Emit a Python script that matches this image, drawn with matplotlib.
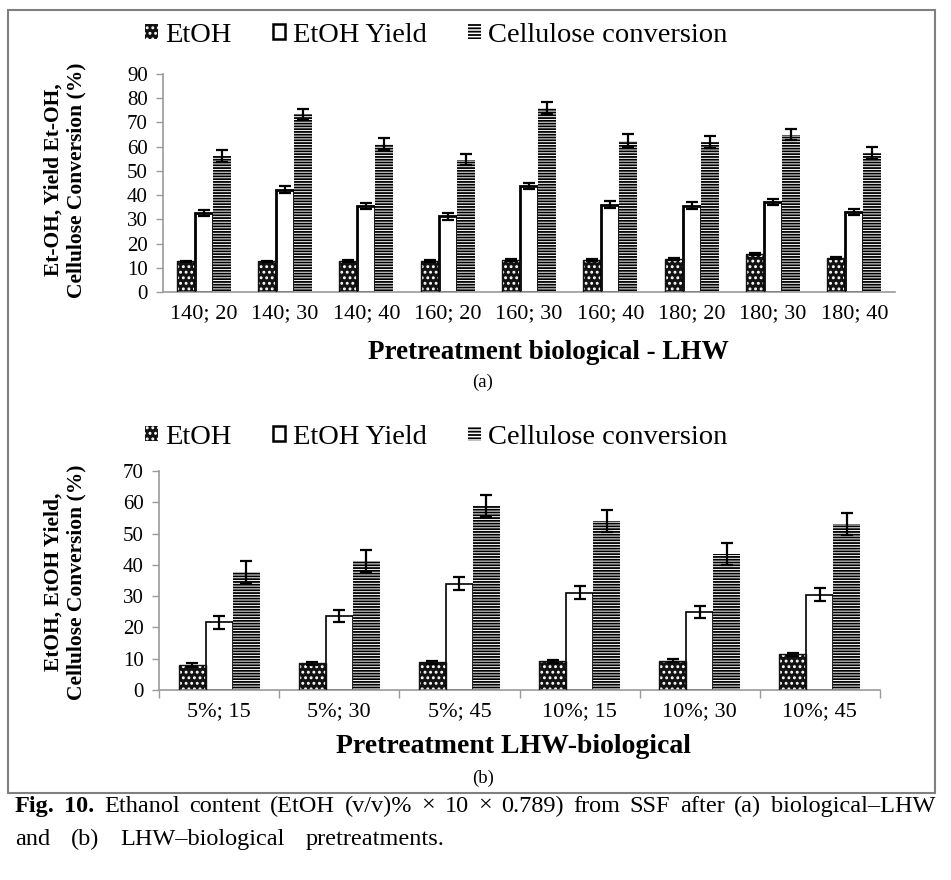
import matplotlib
matplotlib.use("Agg")
import matplotlib.pyplot as plt
import numpy as np
from matplotlib.patches import Rectangle, Patch

plt.rcParams['font.family'] = ['Liberation Serif', 'DejaVu Serif']
plt.rcParams['hatch.linewidth'] = 1.3

# ---------------- data ----------------
series_names = ['EtOH', 'EtOH Yield', 'Cellulose conversion']

top_labels = ['140; 20', '140; 30', '140; 40', '160; 20', '160; 30',
              '160; 40', '180; 20', '180; 30', '180; 40']
top_etoh = [12.6, 12.6, 12.9, 12.9, 13.1, 13.2, 13.6, 15.7, 13.9]
top_yield = [32.5, 42.3, 35.4, 31.2, 43.9, 36.1, 35.7, 37.2, 33.1]
top_cell = [56.2, 73.3, 61.2, 54.7, 76.0, 62.5, 61.8, 65.0, 57.4]
top_etoh_err = [0.4, 0.4, 0.4, 0.4, 0.4, 0.4, 0.4, 0.4, 0.4]
top_yield_err = [1.3, 1.5, 1.3, 1.3, 1.2, 1.3, 1.3, 1.4, 1.3]
top_cell_err = [2.5, 2.3, 2.5, 2.4, 2.6, 2.6, 2.5, 2.3, 2.5]

bot_labels = ['5%; 15', '5%; 30', '5%; 45', '10%; 15', '10%; 30', '10%; 45']
bot_etoh = [8.0, 8.5, 8.8, 9.2, 9.4, 11.4]
bot_yield = [21.6, 23.6, 34.0, 31.1, 25.0, 30.5]
bot_cell = [37.6, 41.2, 58.9, 54.0, 43.5, 53.0]
bot_etoh_err = [0.5, 0.5, 0.5, 0.5, 0.5, 0.5]
bot_yield_err = [2.0, 2.0, 2.0, 2.0, 2.0, 2.0]
bot_cell_err = [3.5, 3.6, 3.5, 3.4, 3.5, 3.5]

W, H = 951, 880
fig = plt.figure(figsize=(W / 100, H / 100), dpi=100)

def fx(px):
    return px / W

def fy(py):
    return 1 - py / H

SPINE = '#9a9a9a'
DARK = '#121212'
ETOH_HATCH = '...'


def panel(rect, labels, etoh, yld, cell, e_err, y_err, c_err, ymax, step,
          bw, yield_lw, boundary_ticks):
    ax = fig.add_axes(rect)
    x = np.arange(len(labels))
    ekw = dict(ecolor='black', elinewidth=1.6, capsize=4, capthick=1.6)
    # EtOH: dark with white dot pattern
    ax.bar(x - bw, etoh, bw, color=DARK, edgecolor='white', hatch=ETOH_HATCH,
           linewidth=0, zorder=2)
    ax.bar(x - bw, etoh, bw, fill=False, edgecolor=DARK, linewidth=1.0,
           yerr=e_err, error_kw=ekw, zorder=3)
    # Yield: white with black border
    ax.bar(x, yld, bw, color='white', edgecolor='black', linewidth=yield_lw,
           yerr=y_err, error_kw=ekw, zorder=2)
    # Cellulose: horizontal stripes
    ax.bar(x + bw, cell, bw, color='white', edgecolor='black', hatch='------',
           linewidth=0, yerr=c_err, error_kw=ekw, zorder=2)

    ax.set_xlim(-0.5, len(labels) - 0.5)
    ax.set_ylim(0, ymax)
    ax.set_yticks(np.arange(0, ymax + 1, step))
    ax.set_xticks(x)
    ax.set_xticklabels(labels, fontsize=16)
    ax.tick_params(axis='y', labelsize=15, color=SPINE, length=5, width=1,
                   direction='out', pad=6)
    ax.tick_params(axis='x', length=0, pad=9)
    if boundary_ticks:
        ax.set_xticks(np.arange(-0.5, len(labels), 1), minor=True)
        ax.tick_params(axis='x', which='minor', length=6, color=SPINE, width=1)
    for s in ['top', 'right']:
        ax.spines[s].set_visible(False)
    for s in ['left', 'bottom']:
        ax.spines[s].set_color(SPINE)
        ax.spines[s].set_linewidth(1.2)
    return ax


ax1 = panel([fx(163), fy(292), fx(895) - fx(163), fy(74) - fy(292)],
            top_labels, top_etoh, top_yield, top_cell,
            top_etoh_err, top_yield_err, top_cell_err, 90, 10, 0.22, 2.0, False)
ax2 = panel([fx(159), fy(690), fx(880) - fx(159), fy(471) - fy(690)],
            bot_labels, bot_etoh, bot_yield, bot_cell,
            bot_etoh_err, bot_yield_err, bot_cell_err, 70, 10, 0.225, 1.2, True)

# legends
def make_handles():
    return [Patch(facecolor=DARK, edgecolor='white', hatch=ETOH_HATCH, linewidth=0),
            Patch(facecolor='white', edgecolor='black', linewidth=1.8),
            Patch(facecolor='white', edgecolor='black', hatch='-----', linewidth=0)]

for ycen in (35, 437):
    fig.legend(make_handles(), series_names, loc='center',
               bbox_to_anchor=(fx(436), fy(ycen)), ncol=3, frameon=False,
               fontsize=20.5, handlelength=0.45, handleheight=0.45,
               handletextpad=0.25, columnspacing=1.45, borderaxespad=0)

# axis titles
fig.text(fx(65), fy(180), 'Et-OH, Yield Et-OH,\nCellulose Conversion (%)',
         rotation=90, ha='center', va='center', fontsize=15.5,
         fontweight='bold', linespacing=1.15)
fig.text(fx(65), fy(582), 'EtOH, EtOH Yield,\nCellulose Conversion (%)',
         rotation=90, ha='center', va='center', fontsize=15.5,
         fontweight='bold', linespacing=1.15)
fig.text(fx(548), fy(352), 'Pretreatment biological - LHW', ha='center',
         va='center', fontsize=19.5, fontweight='bold')
fig.text(fx(513), fy(746), 'Pretreatment LHW-biological', ha='center',
         va='center', fontsize=20, fontweight='bold')
fig.text(fx(483), fy(382), '(a)', ha='center', va='center', fontsize=13.5)
fig.text(fx(483), fy(778), '(b)', ha='center', va='center', fontsize=13.5)

# outer box
fig.patches.append(Rectangle((fx(8), fy(793)), fx(935) - fx(8), fy(10) - fy(793),
                             transform=fig.transFigure, fill=False,
                             edgecolor='#808080', linewidth=1.5))

# caption, word by word with justified spacing
renderer = fig.canvas.get_renderer()

def place_line(words, y, x0, x1, size=17.5):
    texts = []
    for wd, bold in words:
        t = fig.text(0, fy(y), wd, fontsize=size, va='center', ha='left',
                     fontweight='bold' if bold else 'normal')
        texts.append(t)
    widths = [t.get_window_extent(renderer).width for t in texts]
    gap = (x1 - x0 - sum(widths)) / (len(words) - 1)
    x = x0
    for t, w in zip(texts, widths):
        t.set_x(fx(x))
        x += w + gap

line1 = [('Fig.', True), ('10.', True)] + [(w, False) for w in
         'Ethanol content (EtOH (v/v)% × 10 × 0.789) from SSF after (a) biological–LHW'.split(' ')]
line2 = [(w, False) for w in 'and (b) LHW–biological pretreatments.'.split(' ')]
place_line(line1, 806, 15, 935)
place_line(line2, 839, 15, 445)

fig.savefig('out.png', dpi=100)
